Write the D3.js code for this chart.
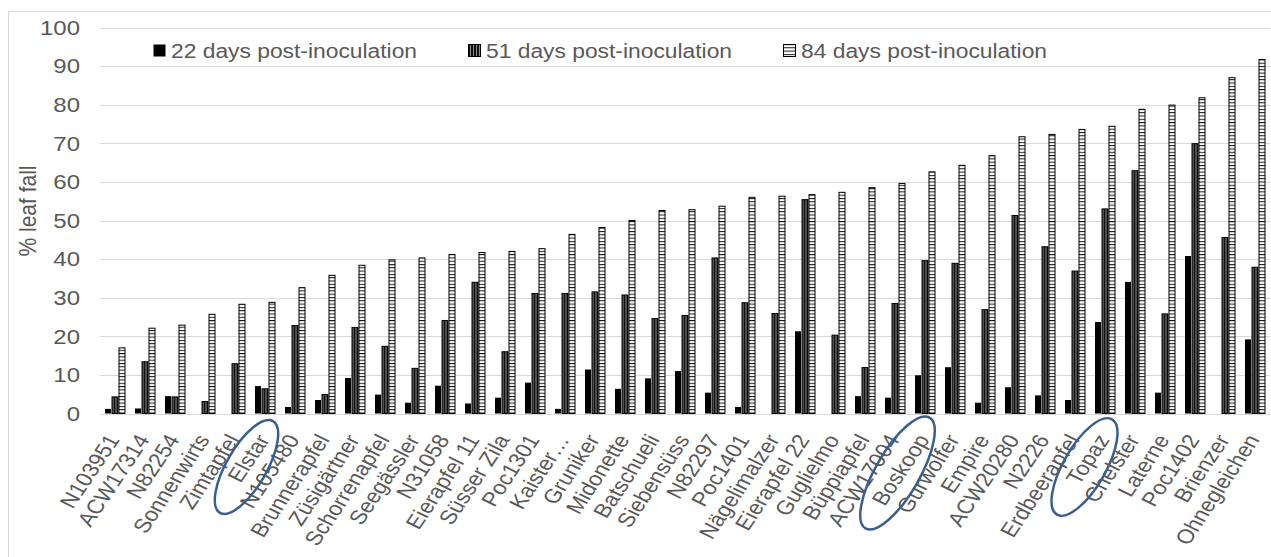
<!DOCTYPE html>
<html><head><meta charset="utf-8">
<script src="https://cdn.jsdelivr.net/npm/d3@7"></script>
<style>
html,body{margin:0;padding:0;background:#fff;}
text{font-family:"Liberation Sans",Arial,sans-serif;fill:#595959;}
</style></head>
<body><svg id="chart" width="1271" height="557"></svg>
<script>
const categories = ["N103951","ACW17314","N82254","Sonnenwirts","Zimtapfel","Elstar","N105480","Brunnerapfel","Züsigärtner","Schorrenapfel","Seegässler","N31058","Eierapfel 11","Süsser Zila","Poc1301","Kaister…","Gruniker","Midonette","Batschueli","Siebensüss","N82297","Poc1401","Nägelimalzer","Eierapfel 22","Guglielmo","Büppiapfel","ACW17004","Boskoop","Gurwolfer","Empire","ACW20280","N2226","Erdbeerapfel","Topaz","Chelster","Laterne","Poc1402","Brienzer","Ohnegleichen"];
const seriesNames = ["22 days post-inoculation","51 days post-inoculation","84 days post-inoculation"];
const d22 = [1.2,1.3,4.5,0,0,7.1,1.7,3.5,9.2,4.9,2.8,7.2,2.6,4.1,8,1.2,11.4,6.4,9.1,11,5.4,1.7,0,21.3,0,4.5,4.1,9.9,12,2.8,6.8,4.7,3.5,23.7,34.1,5.4,40.8,0,19.2];
const d51 = [4.3,13.4,4.3,3.1,12.9,6.4,22.8,4.9,22.3,17.4,11.7,24.1,34,16,31.1,31.1,31.5,30.7,24.6,25.4,40.3,28.7,25.9,55.4,20.3,11.9,28.5,39.6,38.9,26.9,51.3,43.2,36.9,53,62.9,25.8,69.9,45.6,37.9];
const d84 = [17,22.1,22.9,25.7,28.3,28.8,32.6,35.8,38.4,39.8,40.3,41.2,41.7,42,42.7,46.4,48.2,50,52.6,52.8,53.7,56,56.3,56.7,57.3,58.5,59.6,62.6,64.3,66.8,71.7,72.3,73.6,74.4,78.8,79.9,81.8,87,91.7];
const yTicks = [0,10,20,30,40,50,60,70,80,90,100];
const yTitle = "% leaf fall";
const circled = ["Elstar","Boskoop","Topaz"];

const svg = d3.select("#chart");
const SX = 1.17;
const L = 100, R = 1270, T = 27.5, B = 413.5;

const defs = svg.append("defs");
const p51 = defs.append("pattern").attr("id","p51").attr("patternUnits","userSpaceOnUse").attr("width",3).attr("height",4);
p51.append("rect").attr("width",3).attr("height",4).attr("fill","#111");
p51.append("rect").attr("x",2).attr("width",1).attr("height",4).attr("fill","#8a8a8a");
const p84 = defs.append("pattern").attr("id","p84").attr("patternUnits","userSpaceOnUse").attr("width",4).attr("height",3.3);
p84.append("rect").attr("width",4).attr("height",3.3).attr("fill","#fff");
p84.append("rect").attr("y",0).attr("width",4).attr("height",1).attr("fill","#111");
const fills = ["#000","url(#p51)","url(#p84)"];

svg.append("line").attr("x1",8).attr("x2",1271).attr("y1",11.5).attr("y2",11.5).attr("stroke","#d9d9d9");
svg.append("line").attr("x1",8.5).attr("x2",8.5).attr("y1",11).attr("y2",557).attr("stroke","#d9d9d9");

const y = d3.scaleLinear().domain([0,100]).range([B,T]);
const x0 = d3.scaleBand().domain(categories).range([L,R]).paddingInner(0.3).paddingOuter(0.15);
const x1 = d3.scaleBand().domain(d3.range(3)).range([0,x0.bandwidth()]);

svg.append("g").selectAll("line").data(yTicks).join("line")
  .attr("x1",L).attr("x2",R).attr("y1",d=>Math.round(y(d))+0.5).attr("y2",d=>Math.round(y(d))+0.5)
  .attr("stroke","#d9d9d9").attr("stroke-width",1);

svg.append("g").selectAll("text").data(yTicks).join("text")
  .attr("transform",d=>`translate(80,${y(d)}) scale(${SX},1)`)
  .attr("text-anchor","end").attr("dy","0.36em")
  .style("font-size","20.5px").text(d=>d);

svg.append("text").attr("transform",`translate(27,211) scale(${SX},1) rotate(-90)`)
  .attr("text-anchor","middle").attr("dy","0.36em").style("font-size","21px").text(yTitle);

const data = categories.map((c,i)=>({c, v:[d22[i],d51[i],d84[i]]}));
const groups = svg.append("g").selectAll("g").data(data).join("g")
  .attr("transform",d=>`translate(${x0(d.c)},0)`);
groups.selectAll("rect").data(d=>d.v.map((v,k)=>({v,k})).filter(e=>e.v>0)).join("rect")
  .attr("x",e=>x1(e.k)+0.5).attr("width",x1.bandwidth()-1)
  .attr("y",e=>y(e.v)).attr("height",e=>B-y(e.v))
  .attr("fill",e=>fills[e.k]).attr("stroke","#000").attr("stroke-width",e=>e.k===0?0:1);

svg.append("g").selectAll("text").data(categories).join("text")
  .attr("transform",d=>`translate(${x0(d)+x0.bandwidth()/2-2},436) scale(${SX},1) rotate(-60)`)
  .attr("text-anchor","end").attr("dy","0.36em")
  .style("font-size","20px").text(d=>d);

const legX = [153,468,783];
const leg = svg.append("g").selectAll("g").data(seriesNames).join("g")
  .attr("transform",(d,i)=>`translate(${legX[i]},44)`);
leg.append("rect").attr("x",0.5).attr("y",0.5).attr("width",12).attr("height",12)
  .attr("fill",(d,i)=>fills[i]).attr("stroke",(d,i)=>i===0?"none":"#000").attr("stroke-width",1);
leg.append("text").attr("transform",`translate(18,6.5) scale(${SX},1)`).attr("dy","0.36em")
  .style("font-size","19.5px").text(d=>d);

const ell = {Elstar:[-18.5,467,53,20], Boskoop:[-27.5,473,64,22], Topaz:[-20.5,467,55,21]};
svg.append("g").selectAll("ellipse").data(circled).join("ellipse")
  .attr("transform",d=>`translate(${x0(d)+x0.bandwidth()/2+ell[d][0]},${ell[d][1]}) rotate(-60)`)
  .attr("rx",d=>ell[d][2]).attr("ry",d=>ell[d][3])
  .attr("fill","none").attr("stroke","#3a5f8f").attr("stroke-width",2.5);
</script></body></html>
